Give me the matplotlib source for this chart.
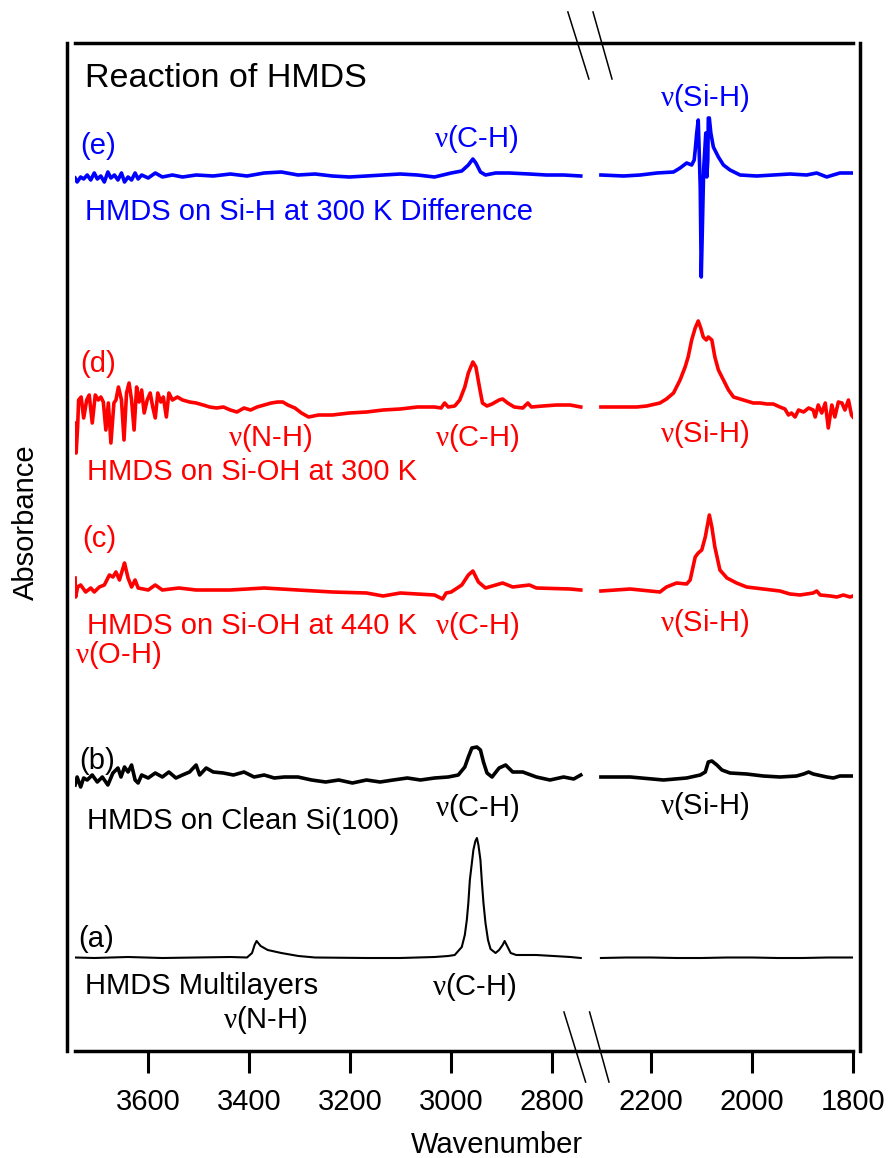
import numpy as np
import matplotlib
matplotlib.use("Agg")
import matplotlib.pyplot as plt

plt.rcParams['font.family'] = ['Liberation Sans', 'DejaVu Sans']
plt.rcParams['mathtext.fontset'] = 'custom'
plt.rcParams['mathtext.rm'] = 'Liberation Sans'
plt.rcParams['mathtext.it'] = 'Liberation Serif'
plt.rcParams['mathtext.bf'] = 'Liberation Sans:bold'

# ---------------- data (wavenumber, absorbance in arbitrary units, offset per trace) -------------
tick_values = [3600, 3400, 3200, 3000, 2800, 2200, 2000, 1800]
tick_labels = ['3600', '3400', '3200', '3000', '2800', '2200', '2000', '1800']

# (a) HMDS multilayers
a_left_w = [3745, 3707, 3640, 3572, 3505, 3437, 3404, 3394, 3389, 3385, 3377, 3363, 3336, 3302,
            3269, 3167, 3100, 3032, 3005, 2992, 2978, 2972, 2968, 2965, 2962, 2958, 2955, 2951,
            2948, 2945, 2941, 2938, 2935, 2931, 2926, 2921, 2911, 2904, 2897, 2893, 2887, 2881,
            2870, 2830, 2796, 2763, 2742]
a_left_v = [95.5, 95, 96, 95, 95.5, 96, 95.5, 100, 108, 112, 107, 103, 100, 97,
            95.5, 95, 95, 96, 97, 98, 106, 118, 133, 150, 173, 190, 203, 212,
            215, 208, 193, 170, 150, 130, 113, 104, 100, 103, 108, 112, 106, 100,
            98, 98, 97, 96, 95]
a_right_w = [2300, 2250, 2200, 2150, 2100, 2050, 2000, 1950, 1900, 1850, 1800]
a_right_v = [95, 95.5, 95.5, 95, 95, 95.5, 95.5, 95, 95, 95.5, 95.5]

# (b) HMDS on clean Si(100)
b_left_w = [3745, 3741, 3734, 3728, 3721, 3711, 3701, 3691, 3680, 3670, 3660, 3654, 3647, 3640,
            3633, 3626, 3620, 3613, 3600, 3586, 3572, 3559, 3545, 3532, 3518, 3505, 3498, 3485,
            3471, 3451, 3431, 3410, 3390, 3370, 3350, 3330, 3303, 3276, 3248, 3222, 3195, 3167,
            3140, 3114, 3086, 3060, 3032, 3005, 2985, 2972, 2965, 2958, 2948, 2941, 2935, 2928,
            2918, 2904, 2891, 2877, 2857, 2830, 2803, 2776, 2756, 2742]
b_left_v = [268, 276, 266, 275, 273, 278, 271, 276, 268, 280, 285, 276, 286, 281,
            288, 273, 270, 278, 275, 280, 276, 281, 275, 278, 281, 288, 278, 285,
            281, 280, 278, 281, 276, 278, 275, 276, 276, 273, 271, 273, 270, 273,
            271, 273, 275, 273, 275, 276, 278, 286, 296, 305, 306, 303, 291, 280,
            276, 285, 288, 281, 281, 276, 273, 276, 274, 278]
b_right_w = [2300, 2242, 2176, 2130, 2103, 2093, 2087, 2080, 2070, 2060, 2044, 2011, 1978, 1945,
             1912, 1898, 1888, 1879, 1852, 1839, 1826, 1806, 1800]
b_right_v = [276, 276, 273, 275, 278, 281, 291, 292, 288, 283, 280, 279, 277, 276,
             277, 279, 281, 279, 276, 275, 277, 277, 277]

# (c) HMDS on Si-OH at 440 K
c_left_w = [3745, 3744, 3740, 3734, 3724, 3714, 3707, 3697, 3687, 3677, 3670, 3664, 3657, 3650,
            3647, 3640, 3633, 3626, 3620, 3600, 3586, 3572, 3539, 3505, 3437, 3370, 3303, 3235,
            3167, 3134, 3100, 3032, 3016, 3009, 2999, 2978, 2965, 2956, 2945, 2931, 2897, 2877,
            2844, 2830, 2763, 2742]
c_left_v = [475, 456, 466, 468, 461, 465, 461, 466, 468, 478, 476, 481, 473, 485,
            490, 475, 466, 473, 465, 463, 468, 463, 465, 463, 463, 465, 463, 461,
            460, 457, 460, 458, 454, 460, 461, 468, 478, 482, 471, 465, 470, 466,
            468, 465, 464, 463]
c_right_w = [2300, 2242, 2183, 2170, 2150, 2130, 2123, 2113, 2107, 2100, 2093, 2085, 2080, 2074,
             2064, 2050, 2031, 2011, 1978, 1945, 1925, 1905, 1879, 1872, 1865, 1845, 1832, 1819,
             1806, 1800]
c_right_v = [462, 464, 461, 466, 470, 469, 473, 496, 500, 503, 516, 538, 526, 506,
             483, 475, 470, 466, 464, 462, 459, 458, 460, 462, 458, 457, 456, 458,
             456, 457]

# (d) HMDS on Si-OH at 300 K
d_left_w = [3745, 3743, 3740, 3738, 3733, 3728, 3722, 3717, 3711, 3705, 3699, 3694, 3689, 3684,
            3679, 3674, 3668, 3664, 3659, 3653, 3648, 3643, 3638, 3633, 3628, 3623, 3618, 3613,
            3608, 3602, 3596, 3591, 3586, 3581, 3575, 3570, 3564, 3559, 3552, 3542, 3532, 3518,
            3505, 3491, 3478, 3464, 3451, 3437, 3424, 3410, 3397, 3384, 3370, 3356, 3343, 3333,
            3323, 3309, 3296, 3282, 3262, 3235, 3201, 3167, 3134, 3100, 3066, 3032, 3019, 3012,
            3005, 2992, 2982, 2972, 2965, 2956, 2950, 2943, 2937, 2928, 2918, 2904, 2897, 2887,
            2874, 2857, 2847, 2840, 2817, 2790, 2763, 2742]
d_left_v = [630, 600, 626, 653, 656, 635, 653, 658, 630, 658, 653, 656, 651, 623,
            650, 610, 650, 653, 666, 653, 613, 660, 670, 653, 623, 666, 651, 663,
            640, 653, 660, 646, 635, 660, 651, 656, 636, 660, 653, 656, 653, 651,
            650, 648, 646, 645, 646, 643, 641, 645, 643, 646, 648, 650, 651, 651,
            648, 645, 640, 636, 638, 638, 640, 641, 643, 644, 646, 646, 645, 650,
            646, 647, 653, 666, 680, 691, 686, 666, 650, 647, 649, 653, 654, 650,
            646, 645, 650, 646, 647, 648, 648, 646]
d_right_w = [2300, 2275, 2229, 2209, 2183, 2170, 2156, 2143, 2133, 2127, 2120, 2113, 2107, 2102,
             2097, 2091, 2087, 2080, 2074, 2067, 2057, 2047, 2037, 2024, 2011, 1998, 1984, 1971,
             1958, 1945, 1935, 1928, 1922, 1915, 1908, 1898, 1888, 1879, 1875, 1869, 1862, 1855,
             1849, 1842, 1836, 1829, 1822, 1816, 1809, 1803, 1800]
d_right_v = [646, 646, 646, 647, 650, 654, 660, 673, 686, 696, 713, 725, 732, 725,
             716, 713, 716, 713, 696, 683, 673, 663, 656, 654, 652, 650, 650, 649,
             649, 646, 644, 638, 640, 636, 643, 641, 645, 643, 636, 648, 640, 650,
             625, 648, 636, 651, 650, 643, 653, 638, 636]

# (e) HMDS on Si-H at 300 K, difference
e_left_w = [3745, 3741, 3734, 3728, 3721, 3714, 3707, 3701, 3694, 3687, 3680, 3674, 3667, 3660,
            3653, 3647, 3640, 3633, 3626, 3620, 3613, 3600, 3586, 3572, 3552, 3532, 3505, 3471,
            3437, 3404, 3370, 3336, 3303, 3269, 3235, 3201, 3167, 3134, 3100, 3066, 3032, 2999,
            2978, 2965, 2956, 2950, 2941, 2931, 2911, 2884, 2844, 2810, 2776, 2742]
e_left_v = [875, 871, 876, 874, 878, 873, 880, 874, 877, 871, 881, 875, 878, 873,
            880, 871, 876, 873, 880, 874, 878, 875, 880, 876, 878, 876, 878, 877,
            879, 877, 880, 881, 878, 879, 877, 876, 877, 878, 879, 878, 876, 880,
            882, 888, 894, 890, 881, 878, 880, 880, 879, 878, 878, 877]
e_right_w = [2300, 2255, 2222, 2189, 2156, 2143, 2130, 2120, 2115, 2113, 2110, 2107, 2105, 2103,
             2102, 2101, 2099, 2097, 2096, 2094, 2092, 2090, 2088, 2087, 2085, 2082, 2077, 2067,
             2057, 2044, 2024, 1991, 1958, 1925, 1892, 1872, 1852, 1846, 1826, 1803, 1800]
e_right_v = [878, 877, 878, 880, 881, 885, 890, 888, 893, 903, 920, 933, 900, 866,
             820, 776, 820, 866, 886, 903, 920, 876, 893, 935, 935, 920, 906, 896,
             888, 883, 878, 877, 878, 879, 878, 880, 876, 877, 880, 880, 880]

traces = [
    (a_left_w, a_left_v, a_right_w, a_right_v, 'black', 1.5),
    (b_left_w, b_left_v, b_right_w, b_right_v, 'black', 2.6),
    (c_left_w, c_left_v, c_right_w, c_right_v, '#ff0000', 2.6),
    (d_left_w, d_left_v, d_right_w, d_right_v, '#ff0000', 2.6),
    (e_left_w, e_left_v, e_right_w, e_right_v, '#0000ff', 2.6),
]

# ---------------- broken wavenumber axis ----------------
def fwd(w):
    w = np.asarray(w, dtype=float)
    return np.where(w <= 2300, w, np.where(w >= 2740, w - 402.0, 2300 + (w - 2300) * 38.0 / 440.0))


def inv(u):
    u = np.asarray(u, dtype=float)
    return np.where(u <= 2300, u, np.where(u >= 2338, u + 402.0, 2300 + (u - 2300) * 440.0 / 38.0))


W, H = 889, 1158
fig = plt.figure(figsize=(W / 100, H / 100), dpi=100)
ax = fig.add_axes([74.6 / W, 1 - 1051 / H, (853 - 74.6) / W, (1051 - 43) / H])
ax.set_xscale('function', functions=(fwd, inv))
ax.set_xlim(3746, 1800)
ax.set_ylim(2, 1010)

for lw_, lv_, rw_, rv_, col, lw in traces:
    ax.plot(lw_, lv_, color=col, lw=lw, solid_joinstyle='round')
    ax.plot(rw_, rv_, color=col, lw=lw, solid_joinstyle='round')

ax.set_xticks(tick_values)
ax.set_xticklabels(tick_labels)
ax.set_yticks([])
ax.tick_params(axis='x', direction='out', length=15.5, width=2.2, pad=11,
               labelsize=21, top=False)
for side in ['left', 'right', 'top', 'bottom']:
    ax.spines[side].set_linewidth(2.5)
ax.spines['left'].set_position(('outward', 5.3))
ax.spines['right'].set_position(('outward', 5.3))

ax.set_xlabel('Wavenumber', fontsize=21)
ax.xaxis.set_label_coords(0.5427, -0.0933)
ax.xaxis.label.set_va('center')
ax.set_ylabel('Absorbance', fontsize=21)
ax.yaxis.set_label_coords(-0.0624, 0.5248)
ax.yaxis.label.set_va('center')

# break marks
for (x0, x1) in [(0.6337, 0.6607), (0.6660, 0.6904)]:
    ax.plot([x0, x1], [1.0308, 0.9643], transform=ax.transAxes, color='black', lw=1.1, clip_on=False)
for (x0, x1) in [(0.6287, 0.6565), (0.6616, 0.6865)]:
    ax.plot([x0, x1], [0.0387, -0.0308], transform=ax.transAxes, color='black', lw=1.1, clip_on=False)

# annotations
FS = 21
NU = r'$\nu$'
ax.text(3725, 966, 'Reaction of HMDS', fontsize=24.5, color='black', va='baseline')

blue = '#0000ff'
red = '#ff0000'
ax.text(3735, 899, '(e)', fontsize=FS, color=blue, va='baseline')
ax.text(2950, 906, NU + '(C-H)', fontsize=FS, color=blue, va='baseline', ha='center')
ax.text(2094, 947, NU + '(Si-H)', fontsize=FS, color=blue, va='baseline', ha='center')
ax.text(3725, 833, 'HMDS on Si-H at 300 K Difference', fontsize=FS, color=blue, va='baseline')

ax.text(3735, 681, '(d)', fontsize=FS, color=red, va='baseline')
ax.text(3358, 607, NU + '(N-H)', fontsize=FS, color=red, va='baseline', ha='center')
ax.text(2947, 607, NU + '(C-H)', fontsize=FS, color=red, va='baseline', ha='center')
ax.text(2094, 611, NU + '(Si-H)', fontsize=FS, color=red, va='baseline', ha='center')
ax.text(3721, 573, 'HMDS on Si-OH at 300 K', fontsize=FS, color=red, va='baseline')

ax.text(3731, 506, '(c)', fontsize=FS, color=red, va='baseline')
ax.text(3721, 419, 'HMDS on Si-OH at 440 K', fontsize=FS, color=red, va='baseline')
ax.text(2947, 419, NU + '(C-H)', fontsize=FS, color=red, va='baseline', ha='center')
ax.text(3745, 390, NU + '(O-H)', fontsize=FS, color=red, va='baseline')
ax.text(2094, 422, NU + '(Si-H)', fontsize=FS, color=red, va='baseline', ha='center')

ax.text(3737, 284, '(b)', fontsize=FS, color='black', va='baseline')
ax.text(3721, 224, 'HMDS on Clean Si(100)', fontsize=FS, color='black', va='baseline')
ax.text(2947, 237, NU + '(C-H)', fontsize=FS, color='black', va='baseline', ha='center')
ax.text(2094, 239, NU + '(Si-H)', fontsize=FS, color='black', va='baseline', ha='center')

ax.text(3739, 106, '(a)', fontsize=FS, color='black', va='baseline')
ax.text(3725, 59, 'HMDS Multilayers', fontsize=FS, color='black', va='baseline')
ax.text(2953, 58, NU + '(C-H)', fontsize=FS, color='black', va='baseline', ha='center')
ax.text(3368, 25, NU + '(N-H)', fontsize=FS, color='black', va='baseline', ha='center')

fig.savefig('out.png', dpi=100)
